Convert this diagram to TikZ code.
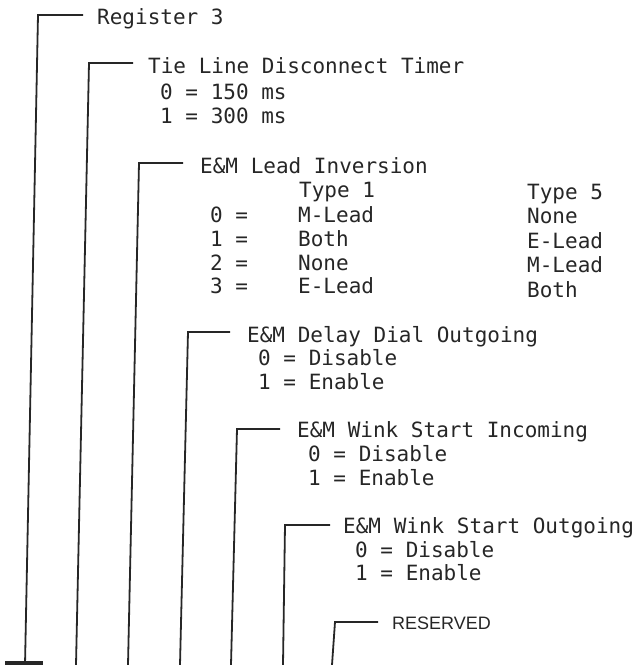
\documentclass[tikz,border=0pt]{standalone}
\usepackage{fontspec}
\newfontfamily\dotfont{DejaVu Sans Mono}
\newfontfamily\resfont{Liberation Sans}
\usetikzlibrary{calc}
\begin{document}
\begin{tikzpicture}[x=1pt,y=-1pt,
  txt/.style={anchor=base west, inner sep=0pt, font=\dotfont\fontsize{21}{24}\selectfont, text=black!85},
  restxt/.style={anchor=base west, inner sep=0pt, font=\resfont\fontsize{18}{20}\selectfont, text=black!85},
  lead/.style={line width=1.8pt, draw=black!85},
]
\useasboundingbox (0,0) rectangle (637,665);

% texts
\node[txt] (h1) at (97,24) {Register 3};
\node[txt] (h2) at (148,73) {Tie Line Disconnect Timer};
\node[txt] (h2a) at (160,99) {0 = 150 ms};
\node[txt] (h2b) at (160,123) {1 = 300 ms};
\node[txt] (h3) at (200,173) {E\&M Lead Inversion};
\node[txt] (t1) at (299,197) {Type 1};
\node[txt] (t5) at (527,199) {Type 5};
\node[txt] (k0) at (210,222) {0 =};
\node[txt] (k1) at (210,246) {1 =};
\node[txt] (k2) at (210,270) {2 =};
\node[txt] (k3) at (210,293) {3 =};
\node[txt] (a0) at (298,222) {M-Lead};
\node[txt] (a1) at (298,246) {Both};
\node[txt] (a2) at (298,270) {None};
\node[txt] (a3) at (298,293) {E-Lead};
\node[txt] (b0) at (527,223) {None};
\node[txt] (b1) at (527,248) {E-Lead};
\node[txt] (b2) at (527,272) {M-Lead};
\node[txt] (b3) at (527,297) {Both};
\node[txt] (h4) at (247,342) {E\&M Delay Dial Outgoing};
\node[txt] (h4a) at (258,365) {0 = Disable};
\node[txt] (h4b) at (258,389) {1 = Enable};
\node[txt] (h5) at (297,437) {E\&M Wink Start Incoming};
\node[txt] (h5a) at (308,461) {0 = Disable};
\node[txt] (h5b) at (308,485) {1 = Enable};
\node[txt] (h6) at (343,533) {E\&M Wink Start Outgoing};
\node[txt] (h6a) at (355,557) {0 = Disable};
\node[txt] (h6b) at (355,580) {1 = Enable};
\node[restxt] (h7) at (392,629) {RESERVED};

% bracket corners and free ends
\coordinate (v1t) at (38,15);   \coordinate (v1b) at (25,665);
\coordinate (v2t) at (89,63);   \coordinate (v2b) at (76,665);
\coordinate (v3t) at (139,163); \coordinate (v3b) at (128,665);
\coordinate (v4t) at (188,332); \coordinate (v4b) at (180,665);
\coordinate (v5t) at (237,429); \coordinate (v5b) at (231,665);
\coordinate (v6t) at (285,525); \coordinate (v6b) at (283,665);
\coordinate (v7t) at (335,622); \coordinate (v7b) at (332,665);

\draw[lead] (v1b) -- (v1t) -- ($(v1t -| h1.west)+(-14,0)$);
\draw[lead] (v2b) -- (v2t) -- ($(v2t -| h2.west)+(-15,0)$);
\draw[lead] (v3b) -- (v3t) -- ($(v3t -| h3.west)+(-17,0)$);
\draw[lead] (v4b) -- (v4t) -- ($(v4t -| h4.west)+(-17,0)$);
\draw[lead] (v5b) -- (v5t) -- ($(v5t -| h5.west)+(-17,0)$);
\draw[lead] (v6b) -- (v6t) -- ($(v6t -| h6.west)+(-13,0)$);
\draw[lead] (v7b) -- (v7t) -- ($(v7t -| h7.west)+(-14,0)$);

% foot bar
\coordinate (fl) at (5,663);
\coordinate (fr) at (43,663);
\draw[line width=3.5pt, draw=black!85] (fl) -- (fr);
\end{tikzpicture}
\end{document}
